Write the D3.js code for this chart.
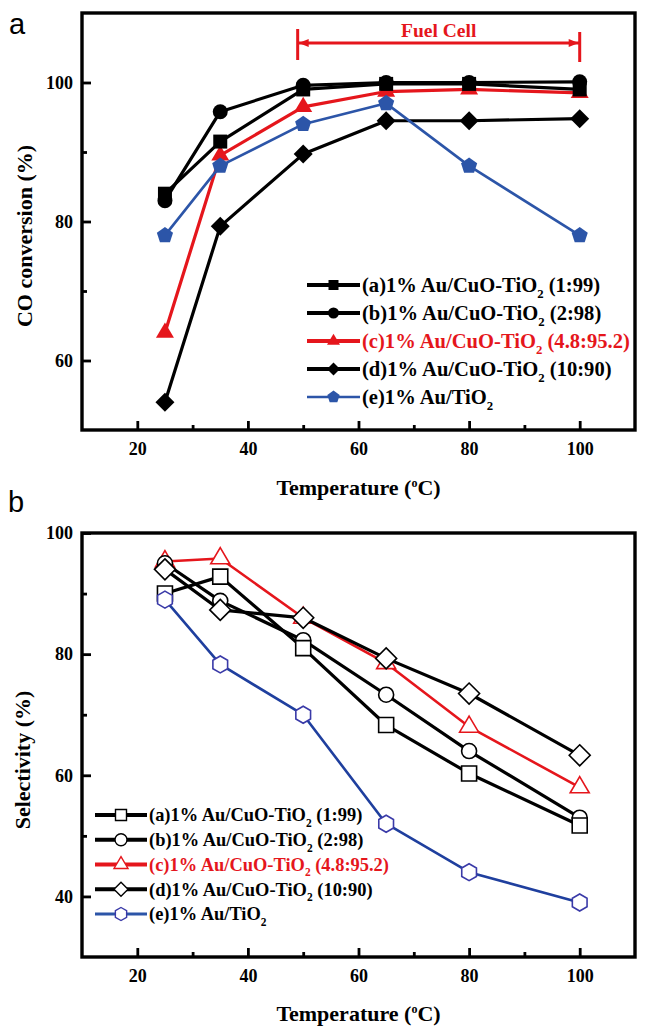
<!DOCTYPE html>
<html><head><meta charset="utf-8">
<script src="https://cdn.jsdelivr.net/npm/d3@7"></script>
<style>body{margin:0;background:#fff} svg{display:block} text{font-family:"Liberation Serif","Times New Roman",serif;font-weight:bold}</style>
</head><body>
<svg id="c" width="645" height="1026"></svg>
<script>
// ---------- data ----------
const temps = [25, 35, 50, 65, 80, 100];
const labelMain = ["(a)1% Au/CuO-TiO", "(b)1% Au/CuO-TiO", "(c)1% Au/CuO-TiO", "(d)1% Au/CuO-TiO", "(e)1% Au/TiO"];
const labelSub = ["2", "2", "2", "2", "2"];
const labelTail = [" (1:99)", " (2:98)", " (4.8:95.2)", " (10:90)", ""];
// panel a: CO conversion (%)
const convA = [84, 91.5, 99, 99.8, 99.8, 99];
const convB = [83, 95.8, 99.6, 100, 100, 100.1];
const convC = [64, 89.5, 96.5, 98.7, 99, 98.5];
const convD = [54, 79.3, 89.7, 94.5, 94.5, 94.8];
const convE = [78, 88, 94, 97, 88, 78];
// panel b: Selectivity (%)
const selA = [90, 92.8, 81, 68.3, 60.3, 51.7];
const selB = [95, 88.8, 82.3, 73.3, 64, 53];
const selC = [95.3, 95.8, 86, 78.5, 68, 58];
const selD = [94, 87.3, 86, 79.3, 73.5, 63.3];
const selE = [89, 78.3, 70, 52, 44, 39];
// ticks
const xTicksMajor = [20, 40, 60, 80, 100];
const xTicksMinor = [30, 50, 70, 90];
const convTicksMajor = [60, 80, 100];
const convTicksMinor = [70, 90];
const selTicksMajor = [40, 60, 80, 100];
const selTicksMinor = [50, 70, 90];
const fuelCellRange = [49, 100];

// ---------- styles ----------
const RED = "#e5161c", BLUE = "#2c55a8", BLACK = "#000";
const colors = [BLACK, BLACK, RED, BLACK, BLUE];

function shape(type, s) {
  const poly = (n) => d3.range(n).map(k => {
    const a = (-90 + k * 360 / n) * Math.PI / 180;
    return [s * Math.cos(a), s * Math.sin(a)];
  });
  switch (type) {
    case "square": return `M${-s},${-s}H${s}V${s}H${-s}Z`;
    case "circle": return `M${s},0A${s},${s} 0 1,1 ${-s},0A${s},${s} 0 1,1 ${s},0Z`;
    case "triangle": { const h = s * 1.7; return `M0,${-h * 2 / 3}L${s},${h / 3}L${-s},${h / 3}Z`; }
    case "diamond": return `M0,${-s}L${s},0L0,${s}L${-s},0Z`;
    case "pentagon": return "M" + poly(5).join("L") + "Z";
    case "hexagon": return "M" + poly(6).join("L") + "Z";
  }
}

const svg = d3.select("#c");

// ---------- helpers ----------
function drawAxes(g, x, y, yMajor, yMinor, yTop, yBottom, xLeft, xRight) {
  const ax = g.append("g").attr("transform", `translate(0,${yBottom})`)
    .call(d3.axisBottom(x).tickValues(xTicksMajor).tickSizeInner(-9).tickSizeOuter(0).tickPadding(12).tickFormat(d3.format("d")));
  const axm = g.append("g").attr("transform", `translate(0,${yBottom})`)
    .call(d3.axisBottom(x).tickValues(xTicksMinor).tickSizeInner(-5).tickSizeOuter(0).tickFormat(""));
  const ay = g.append("g").attr("transform", `translate(${xLeft},0)`)
    .call(d3.axisLeft(y).tickValues(yMajor).tickSizeInner(-9).tickSizeOuter(0).tickPadding(9).tickFormat(d3.format("d")));
  const aym = g.append("g").attr("transform", `translate(${xLeft},0)`)
    .call(d3.axisLeft(y).tickValues(yMinor).tickSizeInner(-5).tickSizeOuter(0).tickFormat(""));
  [ax, axm, ay, aym].forEach(a => {
    a.select(".domain").remove();
    a.selectAll("line").attr("stroke", BLACK).attr("stroke-width", 2.8);
    a.selectAll("text").attr("fill", BLACK).style("font-size", "18px")
      .style("font-family", '"Liberation Serif","Times New Roman",serif').style("font-weight", "bold");
  });
  g.append("rect").attr("x", xLeft).attr("y", yTop).attr("width", xRight - xLeft).attr("height", yBottom - yTop)
    .attr("fill", "none").attr("stroke", BLACK).attr("stroke-width", 3.4);
}

function drawSeries(g, x, y, vals, color, type, size, filled, lw, strokeMarker) {
  const line = d3.line().x((d, i) => x(temps[i])).y(d => y(d));
  g.append("path").datum(vals).attr("d", line).attr("fill", "none")
    .attr("stroke", color).attr("stroke-width", lw).attr("stroke-linejoin", "round");
  g.selectAll(null).data(vals).enter().append("path")
    .attr("transform", (d, i) => `translate(${x(temps[i])},${y(d)})`)
    .attr("d", shape(type, size))
    .attr("fill", filled ? color : "#fff")
    .attr("stroke", filled ? "none" : (strokeMarker || color))
    .attr("stroke-width", filled ? 0 : 1.6);
}

function legendTexts(g, x, y0, dy, fontSize) {
  return labelMain.map((lab, i) => {
    const yy = y0 + i * dy;
    const t = g.append("text").attr("x", x).attr("y", yy + fontSize * 0.34)
      .attr("fill", colors[i] === BLUE ? BLACK : colors[i]).style("font-size", fontSize + "px");
    t.append("tspan").text(lab);
    t.append("tspan").attr("dy", fontSize * 0.3).style("font-size", (fontSize * 0.62) + "px").text(labelSub[i]);
    t.append("tspan").attr("dy", -fontSize * 0.3).text(labelTail[i]);
    return t;
  });
}

function legend(g, x0, y0, dy, lineW, targetWidth, types, sizes, filled, lws, markerColors) {
  labelMain.forEach((lab, i) => {
    const yy = y0 + i * dy;
    g.append("line").attr("x1", x0).attr("x2", x0 + lineW).attr("y1", yy).attr("y2", yy)
      .attr("stroke", colors[i]).attr("stroke-width", lws[i]);
    g.append("path").attr("transform", `translate(${x0 + lineW / 2},${yy})`)
      .attr("d", shape(types[i], sizes[i]))
      .attr("fill", filled ? colors[i] : "#fff")
      .attr("stroke", filled ? "none" : (markerColors ? markerColors[i] : colors[i]))
      .attr("stroke-width", filled ? 0 : 1.4);
  });
  // fit font so the longest label spans the measured width
  const tg = g.append("g");
  let texts = legendTexts(tg, x0 + lineW + 2, y0, dy, 20);
  const w = texts[2].node().getComputedTextLength();
  const fs = 20 * targetWidth / w;
  tg.selectAll("*").remove();
  legendTexts(tg, x0 + lineW + 2, y0, dy, fs);
}

function xTitle(g, cx, yb) {
  const t = g.append("text").attr("x", cx).attr("y", yb).attr("text-anchor", "middle").style("font-size", "22px");
  t.append("tspan").text("Temperature (");
  t.append("tspan").attr("dy", -8).style("font-size", "12px").text("o");
  t.append("tspan").attr("dy", 8).text("C)");
}

// ---------- panel a ----------
const L = 82, R = 635;
const xA = d3.scaleLinear().domain([10, 110]).range([L, R]);
const yA = d3.scaleLinear().domain([50, 110]).range([430, 13]);
const gA = svg.append("g");
svg.append("text").attr("x", 9).attr("y", 34).style("font-family", '"Liberation Sans",Arial,sans-serif')
  .style("font-weight", "normal").style("font-size", "29px").text("a");
drawAxes(gA, xA, yA, convTicksMajor, convTicksMinor, 13, 430, L, R);

// fuel cell annotation
const fy = 43;
const fx1 = xA(fuelCellRange[0]), fx2 = xA(fuelCellRange[1]);
gA.append("line").attr("x1", fx1).attr("x2", fx2).attr("y1", fy).attr("y2", fy).attr("stroke", RED).attr("stroke-width", 3);
gA.append("line").attr("x1", fx1).attr("x2", fx1).attr("y1", 29).attr("y2", 60).attr("stroke", RED).attr("stroke-width", 3);
gA.append("line").attr("x1", fx2).attr("x2", fx2).attr("y1", 32).attr("y2", 62).attr("stroke", RED).attr("stroke-width", 3);
gA.append("path").attr("d", `M${fx1 + 1},${fy}L${fx1 + 11},${fy - 4}L${fx1 + 11},${fy + 4}Z`).attr("fill", RED);
gA.append("path").attr("d", `M${fx2 - 1},${fy}L${fx2 - 11},${fy - 4}L${fx2 - 11},${fy + 4}Z`).attr("fill", RED);
gA.append("text").attr("x", (fx1 + fx2) / 2).attr("y", 37).attr("text-anchor", "middle")
  .attr("fill", RED).style("font-size", "19.5px").text("Fuel Cell");

const topTypes = ["square", "circle", "triangle", "diamond", "pentagon"];
const topSizes = [7, 7.5, 9, 9.5, 8.5];
const convData = [convA, convB, convC, convD, convE];
[2, 3, 0, 1, 4].forEach(i => drawSeries(gA, xA, yA, convData[i], colors[i], topTypes[i], topSizes[i], true, i === 4 ? 2.6 : 3.2));

legend(gA, 307, 285, 28, 53, 268, topTypes, [5, 5.5, 6.5, 6.5, 6.5], true, [3.8, 3.8, 3.8, 3.8, 2.6]);

gA.append("text").attr("transform", "translate(32,236) rotate(-90)").attr("text-anchor", "middle")
  .style("font-size", "22px").text("CO conversion (%)");
xTitle(gA, (L + R) / 2, 495);

// ---------- panel b ----------
const xB = d3.scaleLinear().domain([10, 110]).range([L, R]);
const yB = d3.scaleLinear().domain([30, 100]).range([957, 533]);
const gB = svg.append("g");
svg.append("text").attr("x", 8).attr("y", 512).style("font-family", '"Liberation Sans",Arial,sans-serif')
  .style("font-weight", "normal").style("font-size", "29px").text("b");
drawAxes(gB, xB, yB, selTicksMajor, selTicksMinor, 533, 957, L, R);

const botTypes = ["square", "circle", "triangle", "diamond", "hexagon"];
const botSizes = [7.5, 7.5, 9.5, 10.5, 8.5];
const selData = [selA, selB, selC, selD, selE];
const BLUE2 = "#1f3f9e", HEX = "#3a3aa8";
[2, 1, 0, 3, 4].forEach(i => drawSeries(gB, xB, yB, selData[i], i === 4 ? BLUE2 : colors[i], botTypes[i], botSizes[i], false, i === 4 ? 2.6 : (i === 2 ? 2.6 : 3.2), i === 4 ? HEX : null));

legend(gB, 95, 815, 24.75, 52, 240, botTypes, [5.5, 6, 7, 7, 6.5], false, [3.8, 3.8, 3.8, 3.8, 3], [BLACK, BLACK, RED, BLACK, HEX]);

gB.append("text").attr("transform", "translate(30,760) rotate(-90)").attr("text-anchor", "middle")
  .style("font-size", "22px").text("Selectivity (%)");
xTitle(gB, (L + R) / 2, 1021);
</script>
</body></html>
